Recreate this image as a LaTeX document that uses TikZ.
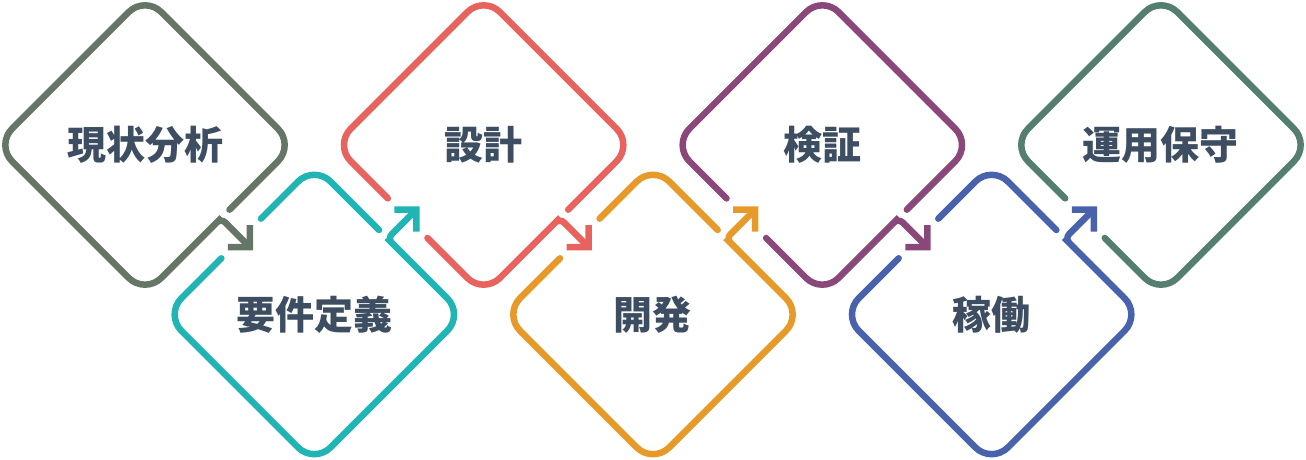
\documentclass[tikz,border=0pt]{standalone}
\usepackage{fontspec}
\usepackage{xcolor}
\usepackage{tikz}
\usetikzlibrary{positioning, arrows.meta}

\newfontfamily\jpfont{Noto Sans CJK JP}

\definecolor{slate}{HTML}{3E4E62}
\definecolor{sagegray}{HTML}{657566}
\definecolor{tealblue}{HTML}{21B4B5}
\definecolor{coral}{HTML}{E8625E}
\definecolor{amber}{HTML}{E79A2A}
\definecolor{plum}{HTML}{8A487A}
\definecolor{indigo}{HTML}{4862AB}
\definecolor{pine}{HTML}{547F70}

\begin{document}
\begin{tikzpicture}[
  x=1pt, y=1pt,
  on grid,
  stagelbl/.style={font=\jpfont\bfseries\fontsize{39pt}{41pt}\selectfont,
                   text=slate, inner sep=0pt},
  rim/.style={line width=6.5pt, line cap=round, rounded corners=23pt},
  elbow/.style={rounded corners=6pt},
  flow/.style={-{Straight Barb[angle=90:22pt]}}
]
\useasboundingbox (0,0) rectangle (1306,460);

% Labels, zig-zag from upper left
\node[stagelbl] (genjo) at (145,315) {現状分析};
\node[stagelbl, below right=169.5pt and 169.33pt of genjo] (yoken) {要件定義};
\node[stagelbl, above right=169.5pt and 169.33pt of yoken] (sekkei) {設計};
\node[stagelbl, below right=169.5pt and 169.33pt of sekkei] (kaihatsu) {開発};
\node[stagelbl, above right=169.5pt and 169.33pt of kaihatsu] (kensho) {検証};
\node[stagelbl, below right=169.5pt and 169.33pt of kensho] (kado) {稼働};
\node[stagelbl, above right=169.5pt and 169.33pt of kado] (unyo) {運用保守};

% Step 1: no gap on the way in
\begin{scope}[shift={(genjo.center)}, rotate=-45]
  \draw[rim, sagegray, flow] (105.5,14) -- (105.5,105.5) -- (-105.5,105.5) -- (-105.5,-105.5)
    -- (105.5,-105.5) -- (105.5,-20) [elbow] -- (105.5,2) -- (151,2);
\end{scope}

% Step 2
\begin{scope}[shift={(yoken.center)}, rotate=45]
  \draw[rim, tealblue] (105.5,14) -- (105.5,105.5) -- (30,105.5);
  \draw[rim, tealblue, flow] (-26,105.5) -- (-105.5,105.5) -- (-105.5,-105.5) -- (105.5,-105.5)
    -- (105.5,-20) [elbow] -- (105.5,2) -- (151,2);
\end{scope}

% Step 3
\begin{scope}[shift={(sekkei.center)}, rotate=-45]
  \draw[rim, coral] (105.5,14) -- (105.5,105.5) -- (-105.5,105.5) -- (-105.5,-105.5) -- (-30,-105.5);
  \draw[rim, coral, flow] (26,-105.5) -- (105.5,-105.5) -- (105.5,-20) [elbow] -- (105.5,2) -- (151,2);
\end{scope}

% Step 4
\begin{scope}[shift={(kaihatsu.center)}, rotate=45]
  \draw[rim, amber] (105.5,14) -- (105.5,105.5) -- (30,105.5);
  \draw[rim, amber, flow] (-26,105.5) -- (-105.5,105.5) -- (-105.5,-105.5) -- (105.5,-105.5)
    -- (105.5,-20) [elbow] -- (105.5,2) -- (151,2);
\end{scope}

% Step 5
\begin{scope}[shift={(kensho.center)}, rotate=-45]
  \draw[rim, plum] (105.5,14) -- (105.5,105.5) -- (-105.5,105.5) -- (-105.5,-105.5) -- (-30,-105.5);
  \draw[rim, plum, flow] (26,-105.5) -- (105.5,-105.5) -- (105.5,-20) [elbow] -- (105.5,2) -- (151,2);
\end{scope}

% Step 6
\begin{scope}[shift={(kado.center)}, rotate=45]
  \draw[rim, indigo] (105.5,14) -- (105.5,105.5) -- (30,105.5);
  \draw[rim, indigo, flow] (-26,105.5) -- (-105.5,105.5) -- (-105.5,-105.5) -- (105.5,-105.5)
    -- (105.5,-20) [elbow] -- (105.5,2) -- (151,2);
\end{scope}

% Step 7: last one, no arrow out
\begin{scope}[shift={(unyo.center)}, rotate=-45]
  \draw[rim, pine] (26,-105.5) -- (105.5,-105.5) -- (105.5,105.5) -- (-105.5,105.5)
    -- (-105.5,-105.5) -- (-30,-105.5);
\end{scope}
\end{tikzpicture}
\end{document}
